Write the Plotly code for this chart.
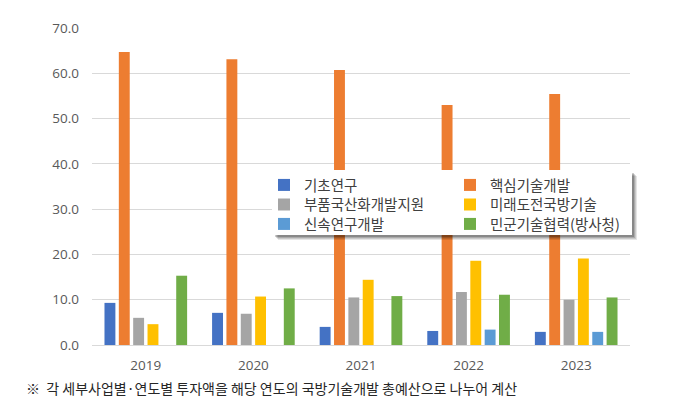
import plotly.graph_objects as go

years = ["2019", "2020", "2021", "2022", "2023"]
series_names = ["기초연구", "핵심기술개발", "부품국산화개발지원", "미래도전국방기술", "신속연구개발", "민군기술협력(방사청)"]
basic_research = [9.3, 7.1, 4.0, 3.1, 2.9]
core_tech = [64.7, 63.1, 60.7, 53.0, 55.4]
parts_localization = [6.0, 6.9, 10.5, 11.7, 10.0]
future_challenge = [4.6, 10.7, 14.4, 18.6, 19.1]
rapid_rnd = [0, 0, 0, 3.4, 2.9]
civil_military = [15.3, 12.5, 10.8, 11.1, 10.5]
y_ticks = [0, 10, 20, 30, 40, 50, 60, 70]
footnote = "※  각 세부사업별·연도별 투자액을 해당 연도의 국방기술개발 총예산으로 나누어 계산"

colors = ["#4472C4", "#ED7D31", "#A5A5A5", "#FFC000", "#5B9BD5", "#70AD47"]
values = [basic_research, core_tech, parts_localization, future_challenge, rapid_rnd, civil_military]
legend_ids = ["legend", "legend", "legend2", "legend2", "legend3", "legend3"]

FONT = "Noto Sans CJK KR"
NUMFONT = "Open Sans"
fig = go.Figure()
for name, vals, col, lg in zip(series_names, values, colors, legend_ids):
    fig.add_trace(go.Bar(x=years, y=vals, name=name, marker=dict(color=col, line=dict(width=0)),
                         legend=lg))

W, H = 675, 407
L, R, T, B = 92, 45, 28, 62
pw, ph = W - L - R, H - T - B
def px_x(p): return (p - L) / pw
def px_y(p): return (H - B - p) / ph

legend_common = dict(bgcolor="rgba(0,0,0,0)", font=dict(family=FONT, size=14.5, color="#404040"),
                     orientation="h", itemwidth=30, xanchor="left", yanchor="middle",
                     entrywidth=141, entrywidthmode="pixels", x=px_x(264))

shapes = []
for i, op in enumerate([0.10, 0.12, 0.15, 0.2]):
    off = 5 - i
    shapes.append(dict(type="rect", xref="paper", yref="paper", layer="above",
                       x0=px_x(272 + off + 1), x1=px_x(632 + off), y0=px_y(235 + off), y1=px_y(170 + off + 1),
                       fillcolor=f"rgba(0,0,0,{op})", line=dict(width=0)))
shapes.append(dict(type="rect", xref="paper", yref="paper", layer="above",
                   x0=px_x(272), x1=px_x(632), y0=px_y(235), y1=px_y(170),
                   fillcolor="white", line=dict(width=0)))

fig.update_layout(
    width=W, height=H,
    margin=dict(l=L, r=R, t=T, b=B),
    paper_bgcolor="white", plot_bgcolor="white",
    barmode="group", bargap=0.2, bargroupgap=0.24,
    font=dict(family=FONT, color="#595959"),
    legend=dict(**legend_common, y=px_y(185)),
    legend2=dict(**legend_common, y=px_y(204.5)),
    legend3=dict(**legend_common, y=px_y(224)),
    shapes=shapes,
    annotations=[dict(text=footnote, xref="paper", yref="paper", x=px_x(24), y=px_y(388),
                      xanchor="left", yanchor="middle", showarrow=False,
                      font=dict(family=FONT, size=14, color="#262626"))],
    xaxis=dict(type="category", showgrid=False, showline=False, zeroline=False,
               ticks="", tickfont=dict(family=NUMFONT, size=13.5, color="#595959"),
               ticklabelstandoff=10),
    yaxis=dict(range=[0, 70], tickvals=y_ticks, tickformat=".1f", showgrid=True,
               gridcolor="#D9D9D9", gridwidth=1, zeroline=True, zerolinecolor="#D9D9D9",
               zerolinewidth=1, showline=False, ticks="",
               tickfont=dict(family=NUMFONT, size=13.5, color="#595959"), ticklabelstandoff=12),
)

fig.write_html("out.html")
